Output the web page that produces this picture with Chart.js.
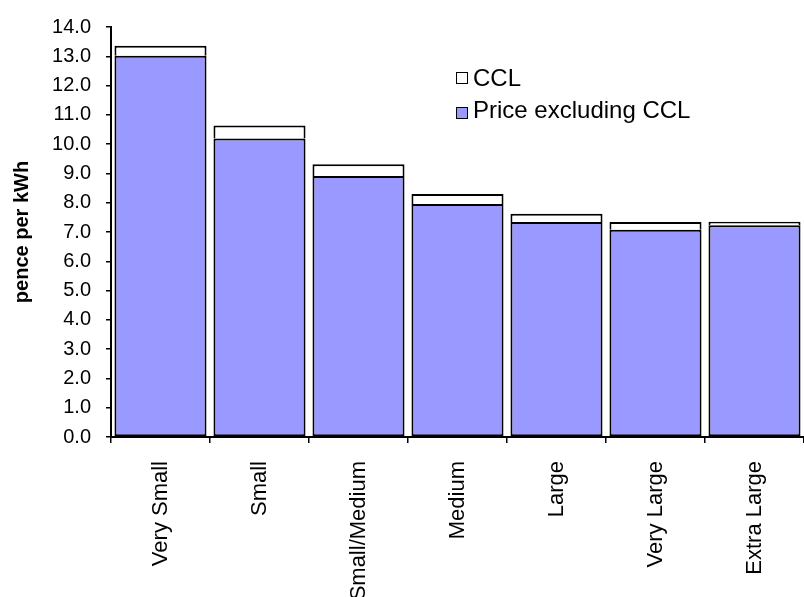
<!DOCTYPE html>
<html>
<head>
<meta charset="utf-8">
<script src="https://cdn.jsdelivr.net/npm/chart.js@4"></script>
<style>
  body { margin: 0; background: #fff; }
  #wrap { position: relative; width: 804px; height: 597px; }
  .leg { position: absolute; left: 456px; font: 24px "Liberation Sans", Arial, sans-serif; line-height: 24px; color: #000; white-space: nowrap; }
  .leg i { position: absolute; left: 0; width: 10px; height: 10px; border: 1px solid #000; }
  .leg span { position: absolute; left: 17px; top: 0; }
</style>
</head>
<body>
<div id="wrap">
  <canvas id="priceChart" width="804" height="597"></canvas>
  <div class="leg" style="top:66px"><i style="top:6px;background:#fff"></i><span>CCL</span></div>
  <div class="leg" style="top:98px"><i style="top:9px;background:#9999ff"></i><span>Price excluding CCL</span></div>
</div>
<script>
const categories = ['Very Small', 'Small', 'Small/Medium', 'Medium', 'Large', 'Very Large', 'Extra Large'];
const priceExclCCL = [13.02, 10.19, 8.91, 7.96, 7.34, 7.08, 7.23];
const ccl = [0.34, 0.45, 0.40, 0.34, 0.28, 0.26, 0.12];
const fontFamily = '"Liberation Sans", Arial, sans-serif';

const ctx = document.getElementById('priceChart').getContext('2d');
new Chart(ctx, {
    type: 'bar',
    data: {
        labels: categories,
        datasets: [{
            label: 'Price excluding CCL',
            data: priceExclCCL,
            backgroundColor: '#9999ff',
            borderColor: '#000',
            borderWidth: 2,
            borderSkipped: false
        }, {
            label: 'CCL',
            data: ccl,
            backgroundColor: '#fff',
            borderColor: '#000',
            borderWidth: 2,
            borderSkipped: 'start'
        }]
    },
    options: {
        responsive: false,
        animation: false,
        layout: { padding: { top: 22, right: 0, left: 0, bottom: 0 } },
        datasets: { bar: { categoryPercentage: 1, barPercentage: 0.93 } },
        plugins: { legend: { display: false }, tooltip: { enabled: false } },
        scales: {
            x: {
                stacked: true,
                afterFit: s => { s.height = 160; },
                border: { color: '#000', width: 2 },
                grid: { drawOnChartArea: false, drawTicks: true, tickLength: 6, color: '#000', lineWidth: 1.5 },
                ticks: { color: '#000', font: { family: fontFamily, size: 22 }, minRotation: 90, maxRotation: 90, padding: 18, autoSkip: false }
            },
            y: {
                stacked: true,
                min: 0,
                max: 14,
                afterFit: s => { s.width = 111; },
                border: { color: '#000', width: 2 },
                grid: { drawOnChartArea: false, drawTicks: true, tickLength: 5, color: '#000', lineWidth: 1.5 },
                ticks: { stepSize: 1, autoSkip: false, color: '#000', font: { family: fontFamily, size: 20 }, padding: 15, callback: v => v.toFixed(1) },
                title: { display: true, text: 'pence per kWh', color: '#000', font: { family: fontFamily, size: 20, weight: 'bold' }, padding: { top: 10, bottom: 0 } }
            }
        }
    }
});
</script>
</body>
</html>
